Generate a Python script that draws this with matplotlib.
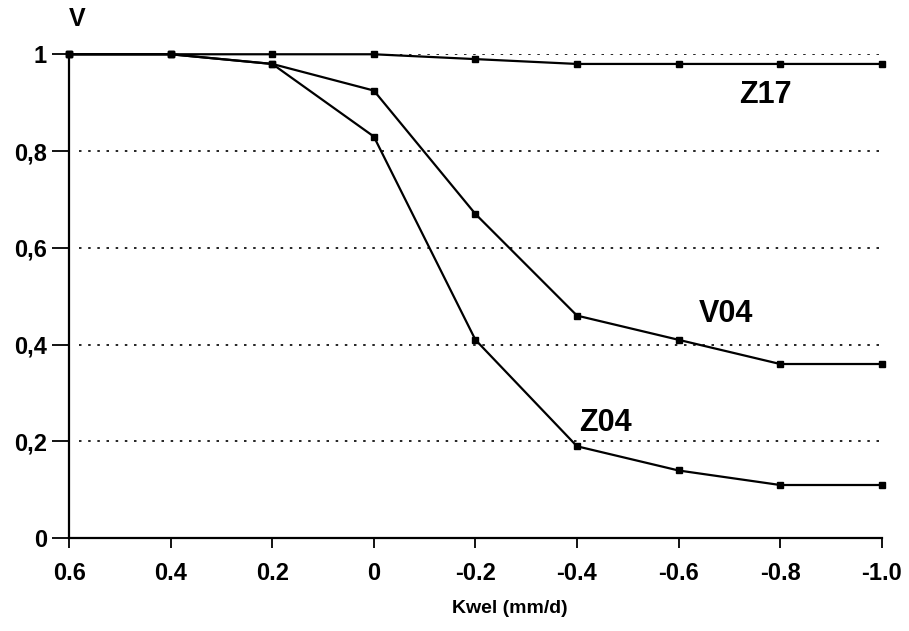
import matplotlib.pyplot as plt

kwel = [0.6, 0.4, 0.2, 0.0, -0.2, -0.4, -0.6, -0.8, -1.0]
z17 = [1.0, 1.0, 1.0, 1.0, 0.99, 0.98, 0.98, 0.98, 0.98]
v04 = [1.0, 1.0, 0.98, 0.925, 0.67, 0.46, 0.41, 0.36, 0.36]
z04 = [1.0, 1.0, 0.98, 0.83, 0.41, 0.19, 0.14, 0.11, 0.11]
xticks = [0.6, 0.4, 0.2, 0.0, -0.2, -0.4, -0.6, -0.8, -1.0]
xlabels = ['0.6', '0.4', '0.2', '0', '-0.2', '-0.4', '-0.6', '-0.8', '-1.0']
yticks = [0, 0.2, 0.4, 0.6, 0.8, 1.0]
ylabels = ['0', '0,2', '0,4', '0,6', '0,8', '1']

plt.rcParams['font.family'] = ['Liberation Sans', 'DejaVu Sans']
plt.rcParams['font.weight'] = 'bold'

fig = plt.figure(figsize=(9.09, 6.31), dpi=100)
ax = fig.add_axes([0.076, 0.147, 0.894, 0.767])

for g in yticks[1:]:
    ax.axhline(g, xmin=0.012, xmax=1.0, color='black', linestyle=(0, (1.5, 4)), linewidth=1.2, zorder=1)

for ys in (z17, v04, z04):
    ax.plot(kwel, ys, color='black', linewidth=1.6, marker='s', markersize=5, clip_on=False, zorder=3)

ax.set_xlim(0.6, -1.0)
ax.set_ylim(0, 1.0)
ax.set_xticks(xticks)
ax.set_xticklabels(xlabels, fontsize=17, fontweight='bold')
ax.set_yticks(yticks)
ax.set_yticklabels(ylabels, fontsize=17, fontweight='bold')
ax.tick_params(axis='x', direction='out', length=7, width=1.3, pad=10)
ax.tick_params(axis='y', direction='out', length=12, width=1.3, pad=4)

for s in ('top', 'right'):
    ax.spines[s].set_visible(False)
for s in ('left', 'bottom'):
    ax.spines[s].set_linewidth(1.6)

ax.text(0.542, -0.145, 'Kwel (mm/d)', transform=ax.transAxes, fontsize=14, fontweight='bold',
        ha='center', va='center')
ax.text(0.01, 1.072, 'V', transform=ax.transAxes, fontsize=18, fontweight='bold', ha='center', va='center')

ax.text(-0.72, 0.915, 'Z17', fontsize=22, fontweight='bold', va='center')
ax.text(-0.64, 0.463, 'V04', fontsize=22, fontweight='bold', va='center')
ax.text(-0.405, 0.238, 'Z04', fontsize=22, fontweight='bold', va='center')

fig.savefig('out.png', dpi=100)
